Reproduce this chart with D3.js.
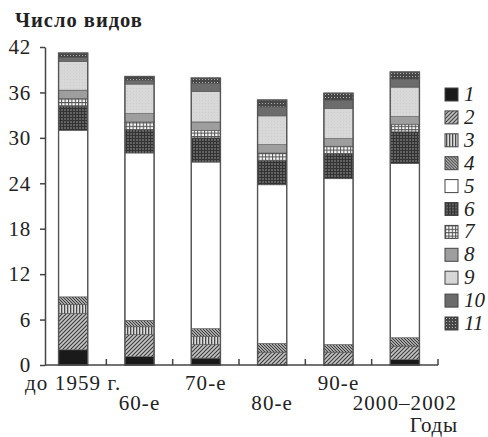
<!DOCTYPE html>
<html>
<head>
<meta charset="utf-8">
<script src="https://cdn.jsdelivr.net/npm/d3@7/dist/d3.min.js"></script>
<style>
  body { margin: 0; background: #fff; }
  svg text { font-family: "Liberation Serif", "DejaVu Serif", serif; fill: #222; }
</style>
</head>
<body>
<div id="container"></div>
<script>
const periods = ["до 1959 г.", "60-е", "70-е", "80-е", "90-е", "2000–2002"];
const groups = ["1", "2", "3", "4", "5", "6", "7", "8", "9", "10", "11"];
const yTicks = [0, 6, 12, 18, 24, 30, 36, 42];

// число видов по группам (1..11) для каждого периода
const group1 = [2, 1.1, 0.9, 0, 0, 0.7];
const group2 = [4.8, 2.9, 1.8, 1.7, 1.7, 1.8];
const group3 = [1.2, 1.05, 1.1, 0, 0, 0];
const group4 = [1, 0.85, 1, 1.15, 1, 1.1];
const group5 = [22, 22.1, 22, 20.95, 21.9, 23];
const group6 = [3.2, 3.1, 3.2, 3.2, 3.3, 4.2];
const group7 = [1, 1, 1, 1, 1, 1];
const group8 = [1.1, 1.1, 1.1, 1.1, 1, 1];
const group9 = [3.8, 3.9, 4, 3.8, 4, 3.9];
const group10 = [0.5, 0.5, 1.1, 1.2, 1.1, 1];
const group11 = [0.6, 0.5, 0.7, 0.9, 0.9, 1];
const seriesValues = [group1, group2, group3, group4, group5, group6,
                      group7, group8, group9, group10, group11];

const w = 488, h = 437;
const serif = "'Liberation Serif', 'DejaVu Serif', serif";

const rows = periods.map((p, i) => {
    const row = {period: p};
    groups.forEach((g, k) => row[g] = seriesValues[k][i]);
    return row;
});

const svg = d3.select("#container")
    .append("svg")
    .attr("width", w)
    .attr("height", h);

const x = d3.scaleBand()
    .domain(periods)
    .range([40, 438])
    .paddingInner(0.56)
    .paddingOuter(0.28);

const y = d3.scaleLinear()
    .domain([0, 42])
    .range([365, 47]);

// штриховки
const defs = svg.append("defs");

function pattern(id, size, bg, draw) {
    const p = defs.append("pattern")
        .attr("id", id)
        .attr("patternUnits", "userSpaceOnUse")
        .attr("width", size)
        .attr("height", size);
    p.append("rect").attr("width", size).attr("height", size).attr("fill", bg);
    draw(p);
}

pattern("p2", 4, "#c4c4c4", (p) => p.append("path")
    .attr("d", "M-1,1 l2,-2 M0,4 l4,-4 M3,5 l2,-2")
    .attr("stroke", "#3a3a3a").attr("stroke-width", 1.1));
pattern("p3", 3, "#dcdcdc", (p) => p.append("rect")
    .attr("x", 1).attr("width", 1.3).attr("height", 3).attr("fill", "#4a4a4a"));
pattern("p4", 3, "#a8a8a8", (p) => p.append("path")
    .attr("d", "M-1,2 l2,2 M0,0 l3,3 M2,-1 l2,2")
    .attr("stroke", "#2e2e2e").attr("stroke-width", 0.9));
pattern("p6", 3, "#626262", (p) => p.append("path")
    .attr("d", "M0,0.5 h3 M0.5,0 v3")
    .attr("stroke", "#333").attr("stroke-width", 1));
pattern("p7", 3.4, "#fafafa", (p) => p.append("path")
    .attr("d", "M0,0.5 h3.4 M0.5,0 v3.4")
    .attr("stroke", "#505050").attr("stroke-width", 1));
pattern("p9", 3, "#d8d8d8", (p) => p.append("rect")
    .attr("x", 1).attr("y", 1).attr("width", 1).attr("height", 1).attr("fill", "#cdcdcd"));
pattern("p11", 3, "#474747", (p) => p.append("rect")
    .attr("x", 1).attr("y", 1).attr("width", 1).attr("height", 1).attr("fill", "#b0b0b0"));

const fills = ["#1a1a1a", "url(#p2)", "url(#p3)", "url(#p4)", "#ffffff", "url(#p6)",
               "url(#p7)", "#9e9e9e", "url(#p9)", "#6c6c6c", "url(#p11)"];
const color = d3.scaleOrdinal().domain(groups).range(fills);

const stacked = d3.stack().keys(groups)(rows);

const layer = svg.selectAll("g.layer")
    .data(stacked)
    .enter()
    .append("g")
    .attr("class", "layer")
    .attr("fill", (d) => color(d.key));

layer.selectAll("rect")
    .data((d) => d.filter((s) => s[1] - s[0] > 0))
    .enter()
    .append("rect")
    .attr("x", (d) => x(d.data.period))
    .attr("y", (d) => y(d[1]))
    .attr("width", x.bandwidth())
    .attr("height", (d) => y(d[0]) - y(d[1]))
    .attr("stroke", "#555")
    .attr("stroke-width", 0.6);

// контур столбиков
svg.selectAll("rect.outline")
    .data(rows)
    .enter()
    .append("rect")
    .attr("class", "outline")
    .attr("x", (d) => x(d.period))
    .attr("y", (d) => y(d3.sum(groups, (g) => d[g])))
    .attr("width", x.bandwidth())
    .attr("height", (d) => y(0) - y(d3.sum(groups, (g) => d[g])))
    .attr("fill", "none")
    .attr("stroke", "#555")
    .attr("stroke-width", 1.4);

// ось Y
const yAxis = svg.append("g")
    .attr("transform", "translate(45,0)")
    .call(d3.axisLeft(y).tickValues(yTicks).tickSize(5).tickSizeOuter(0).tickPadding(9));
yAxis.select(".domain").attr("stroke", "#444").attr("stroke-width", 1.5);
yAxis.selectAll(".tick line").attr("stroke", "#444").attr("stroke-width", 1.5);
yAxis.selectAll(".tick text")
    .style("font-family", serif)
    .style("font-size", "21px")
    .style("letter-spacing", "0.8px")
    .attr("fill", "#222");

// ось X
const x1 = x.range()[1];
svg.append("line")
    .attr("x1", 45).attr("x2", x1)
    .attr("y1", y(0)).attr("y2", y(0))
    .attr("stroke", "#444").attr("stroke-width", 1.5);

svg.selectAll("line.xtick")
    .data(periods)
    .enter()
    .append("line")
    .attr("class", "xtick")
    .attr("x1", (d) => x(d) + x.bandwidth() + x.step() * x.paddingInner() / 2)
    .attr("x2", (d) => x(d) + x.bandwidth() + x.step() * x.paddingInner() / 2)
    .attr("y1", y(0)).attr("y2", y(0) - 6)
    .attr("stroke", "#444").attr("stroke-width", 1.5);

svg.selectAll("text.xlabel")
    .data(periods)
    .enter()
    .append("text")
    .attr("class", "xlabel")
    .attr("x", (d) => x(d) + x.bandwidth() / 2)
    .attr("y", (d, i) => i % 2 === 0 ? 390 : 410)
    .attr("text-anchor", "middle")
    .style("font-family", serif)
    .style("font-size", "21px")
    .style("letter-spacing", "1.1px")
    .text((d) => d);

svg.append("text")
    .attr("x", 458)
    .attr("y", 432)
    .attr("text-anchor", "end")
    .style("font-family", serif)
    .style("font-size", "21px")
    .style("letter-spacing", "0.8px")
    .text("Годы");

svg.append("text")
    .attr("x", 15)
    .attr("y", 27)
    .style("font-family", serif)
    .style("font-size", "20.5px")
    .style("font-weight", "bold")
    .style("letter-spacing", "1px")
    .text("Число видов");

// легенда
const legend = svg.append("g")
    .attr("id", "legend")
    .attr("transform", "translate(445,88)");

const item = legend.selectAll("g")
    .data(groups)
    .enter()
    .append("g")
    .attr("transform", (d, i) => "translate(0," + (i * 22.9) + ")");

item.append("rect")
    .attr("width", 13)
    .attr("height", 13)
    .attr("fill", (d) => color(d))
    .attr("stroke", "#444")
    .attr("stroke-width", 1);

item.append("text")
    .attr("x", 19)
    .attr("y", 13)
    .style("font-family", serif)
    .style("font-size", "21px")
    .style("font-style", "italic")
    .text((d) => d);
</script>
</body>
</html>
